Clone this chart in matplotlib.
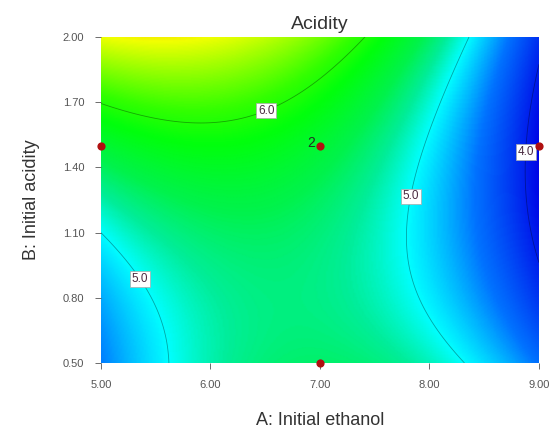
import numpy as np
import matplotlib
matplotlib.use("Agg")
import matplotlib.pyplot as plt
from matplotlib.colors import LinearSegmentedColormap

plt.rcParams['font.family'] = ['Liberation Sans', 'DejaVu Sans']

# fitted quadratic model in coded units (x1 = ethanol, x2 = acidity)
coef_names = ["b0", "A", "B", "AB", "A2", "B2"]
coef_vals = [5.426, -0.670, 0.450, -0.643, -0.894, 0.431]

A_range = [5.0, 9.0]
B_range = [0.5, 2.0]
x_ticks = [5.0, 6.0, 7.0, 8.0, 9.0]
y_ticks = [0.50, 0.80, 1.10, 1.40, 1.70, 2.00]
contour_levels = [4.0, 5.0, 6.0]

# design points shown on the plot
pts_A = [5.0, 7.0, 9.0, 7.0]
pts_B = [1.5, 1.5, 1.5, 0.5]
pts_count = ["", "2", "", ""]

b = dict(zip(coef_names, coef_vals))

def model(A, B):
    x1 = (A - 7.0) / 2.0
    x2 = (B - 1.25) / 0.75
    return (b["b0"] + b["A"]*x1 + b["B"]*x2 + b["AB"]*x1*x2
            + b["A2"]*x1**2 + b["B2"]*x2**2)

a = np.linspace(A_range[0], A_range[1], 300)
bb = np.linspace(B_range[0], B_range[1], 300)
AA, BB = np.meshgrid(a, bb)
Z = model(AA, BB)

vmin, vmax = 3.8, 7.6
anchors = [(3.8, (0, 0, 0.9)), (4.5, (0, 0.45, 1)), (5.0, (0, 1, 1)),
           (5.25, (0, 0.93, 0.6)), (5.5, (0, 0.95, 0.3)), (5.85, (0, 1, 0.05)),
           (6.1, (0.2, 1, 0)), (6.75, (0.95, 1, 0)), (7.6, (1, 0, 0))]
cmap = LinearSegmentedColormap.from_list(
    "de", [((v - vmin) / (vmax - vmin), c) for v, c in anchors])

fig = plt.figure(figsize=(5.54, 4.45), dpi=100)
ax = fig.add_axes([0.1823, 0.1843, 0.7906, 0.7326])

ax.pcolormesh(AA, BB, Z, cmap=cmap, vmin=vmin, vmax=vmax, shading="gouraud")
cs = ax.contour(AA, BB, Z, levels=contour_levels, colors="k",
                linewidths=0.6, alpha=0.35)
lbls = ax.clabel(cs, fmt="%.1f", fontsize=8.5, inline=False,
                 manual=[(6.51, 1.66), (7.79, 1.27), (5.37, 0.89), (8.92, 1.47)])
for t in lbls:
    t.set_rotation(0)
    t.set_bbox(dict(facecolor="white", edgecolor="#aaaaaa", pad=1.3, lw=0.5))
    t.set_color("#4a2a40")
    t.set_alpha(1)

ax.scatter(pts_A, pts_B, s=24, color="#b01010", zorder=5, clip_on=False)
for xa, yb, n in zip(pts_A, pts_B, pts_count):
    if n:
        ax.text(xa - 0.04, yb + 0.01, n, ha="right", va="center",
                fontsize=10, color="#223322")

ax.set_xlim(A_range)
ax.set_ylim(B_range)
ax.set_xticks(x_ticks)
ax.set_xticklabels([f"{v:.2f}" for v in x_ticks])
ax.set_yticks(y_ticks)
ax.set_yticklabels([f"{v:.2f}" for v in y_ticks])
ax.tick_params(labelsize=8, colors="#555555", length=4, width=0.6,
               direction="out", pad=8)
for s in ax.spines.values():
    s.set_visible(False)

ax.set_title("Acidity", fontsize=14, color="#333333", pad=6)
ax.set_xlabel("A: Initial ethanol", fontsize=13, color="#333333", labelpad=16)
ax.set_ylabel("B: Initial acidity", fontsize=13, color="#333333", labelpad=16)

fig.savefig("out.png", dpi=100)
